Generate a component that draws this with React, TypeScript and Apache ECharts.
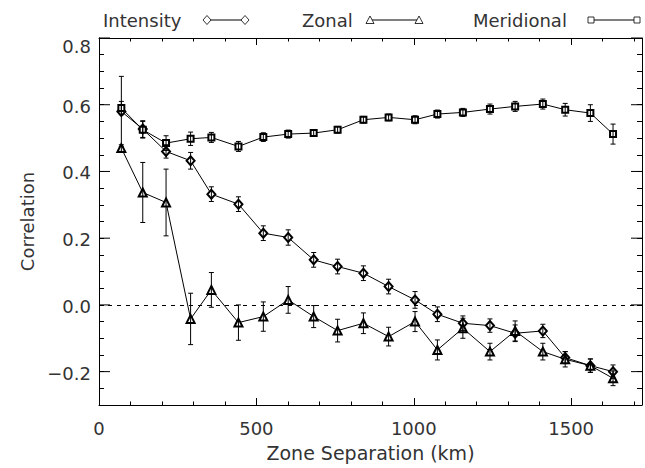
import React, { useEffect, useRef } from 'react';
import * as echarts from 'echarts';

// ---- data ----
const separation = [71, 139, 213, 291, 357, 443, 522, 601, 682, 758, 840, 920, 1004, 1075, 1156, 1242, 1322, 1410, 1481, 1561, 1633];

const intensity = [0.58, 0.527, 0.46, 0.432, 0.332, 0.302, 0.215, 0.202, 0.135, 0.115, 0.095, 0.055, 0.015, -0.028, -0.055, -0.062, -0.085, -0.078, -0.158, -0.182, -0.2];
const intensityErr = [0.105, 0.025, 0.02, 0.025, 0.022, 0.022, 0.022, 0.023, 0.022, 0.022, 0.022, 0.022, 0.025, 0.022, 0.022, 0.02, 0.025, 0.02, 0.018, 0.02, 0.02];

const zonal = [0.47, 0.337, 0.307, -0.042, 0.045, -0.053, -0.035, 0.015, -0.035, -0.077, -0.055, -0.095, -0.05, -0.135, -0.07, -0.14, -0.078, -0.14, -0.163, -0.182, -0.22];
const zonalErr = [0.01, 0.09, 0.1, 0.077, 0.052, 0.053, 0.044, 0.04, 0.033, 0.034, 0.031, 0.028, 0.03, 0.03, 0.03, 0.025, 0.03, 0.025, 0.023, 0.02, 0.022];

const meridional = [0.59, 0.525, 0.485, 0.498, 0.502, 0.475, 0.503, 0.512, 0.515, 0.525, 0.555, 0.562, 0.555, 0.572, 0.577, 0.587, 0.595, 0.602, 0.585, 0.575, 0.512];
const meridionalErr = [0.02, 0.025, 0.022, 0.02, 0.015, 0.015, 0.013, 0.012, 0.01, 0.01, 0.01, 0.01, 0.012, 0.012, 0.012, 0.015, 0.015, 0.015, 0.019, 0.025, 0.03];

const xRange = [0, 1725];
const yRange = [-0.3, 0.8];
const xMajorStep = 500;
const xMinorStep = 100;
const yMinorStep = 0.05;
const xLabelTicks = [0, 500, 1000, 1500];
const yMajorTicks = [-0.2, 0, 0.2, 0.4, 0.6, 0.8];

const seriesNames = ['Intensity', 'Zonal', 'Meridional'];

const FONT = 'DejaVu Sans';
const INK = '#333';

function errorSeries(name: string, vals: number[], errs: number[]) {
  return {
    type: 'custom',
    name: name + ' error',
    z: 3,
    silent: true,
    data: separation.map((x, i) => [x, vals[i] - errs[i], vals[i] + errs[i]]),
    encode: { x: 0, y: [1, 2] },
    renderItem: (_p: any, api: any) => {
      const x = api.value(0);
      const lo = api.coord([x, api.value(1)]);
      const hi = api.coord([x, api.value(2)]);
      const w = 2.5;
      const st = { stroke: '#000', lineWidth: 1 };
      return {
        type: 'group',
        children: [
          { type: 'line', shape: { x1: lo[0], y1: lo[1], x2: hi[0], y2: hi[1] }, style: st },
          { type: 'line', shape: { x1: lo[0] - w, y1: lo[1], x2: lo[0] + w, y2: lo[1] }, style: st },
          { type: 'line', shape: { x1: hi[0] - w, y1: hi[1], x2: hi[0] + w, y2: hi[1] }, style: st },
        ],
      };
    },
  };
}

function lineSeries(name: string, vals: number[], symbol: string, size: number | number[]) {
  return {
    type: 'line',
    name,
    data: separation.map((x, i) => [x, vals[i]]),
    symbol,
    symbolSize: size,
    showSymbol: true,
    z: 2,
    lineStyle: { color: '#000', width: 1 },
    itemStyle: { color: '#000', borderWidth: 0.8 },
    silent: true,
  };
}

function legendGraphics() {
  const y = 20;
  const st = { stroke: '#000', lineWidth: 0.8, fill: '#fff' };
  const items: any[] = [];
  const defs = [
    { name: seriesNames[0], tx: 103, m1: 207, m2: 245, kind: 'diamond' },
    { name: seriesNames[1], tx: 302, m1: 370, m2: 419, kind: 'triangle' },
    { name: seriesNames[2], tx: 473, m1: 591, m2: 637, kind: 'square' },
  ];
  const marker = (kind: string, cx: number) => {
    if (kind === 'diamond') {
      return { type: 'polygon', shape: { points: [[cx, y - 4.5], [cx + 4, y], [cx, y + 4.5], [cx - 4, y]] }, style: st, z: 101 };
    }
    if (kind === 'triangle') {
      return { type: 'polygon', shape: { points: [[cx, y - 4], [cx + 4, y + 3.5], [cx - 4, y + 3.5]] }, style: st, z: 101 };
    }
    return { type: 'rect', shape: { x: cx - 3, y: y - 3, width: 6, height: 6 }, style: st, z: 101 };
  };
  defs.forEach((d) => {
    items.push({
      type: 'text',
      x: d.tx,
      y: y,
      style: { text: d.name, font: `18px "${FONT}"`, fill: INK, verticalAlign: 'middle', align: 'left' },
      z: 100,
    });
    items.push({ type: 'line', shape: { x1: d.m1, y1: y, x2: d.m2, y2: y }, style: { stroke: '#000', lineWidth: 1 }, z: 100 });
    items.push(marker(d.kind, d.m1));
    items.push(marker(d.kind, d.m2));
  });
  return items;
}

function yLabel(v: number) {
  const k = Math.round(v * 100);
  if (k % 20 !== 0) return '';
  const t = (k < 0 ? '\u2212' : '') + (Math.abs(k) / 100).toFixed(1);
  if (k === 80) return '{top|' + t + '}';
  return t;
}

export default function App() {
  const ref = useRef<HTMLDivElement>(null);

  useEffect(() => {
    if (!ref.current) return;
    const chart = echarts.init(ref.current, undefined, { renderer: 'svg' });

    const axisLine = { show: true, onZero: false, lineStyle: { color: '#000', width: 1 } };
    const noLine = { show: false, onZero: false };
    const baseX = {
      type: 'value',
      min: xRange[0],
      max: xRange[1],
      splitLine: { show: false },
      axisLine,
    };
    const baseY = {
      type: 'value',
      min: yRange[0],
      max: yRange[1],
      interval: yMinorStep,
      splitLine: { show: false },
      axisLine,
      axisTick: { show: true, inside: true, length: 5, lineStyle: { color: '#000', width: 1 } },
    };

    const option: any = {
      animation: false,
      backgroundColor: '#fff',
      grid: { left: 99, right: -4, top: 38, bottom: 63, containLabel: false },
      xAxis: [
        {
          ...baseX,
          position: 'bottom',
          interval: xMajorStep,
          axisTick: { show: true, inside: true, length: 7, lineStyle: { color: '#000', width: 1 } },
          axisLabel: {
            show: true,
            margin: 14,
            fontFamily: FONT,
            fontSize: 18,
            color: INK,
            formatter: (v: number) => (xLabelTicks.indexOf(v) >= 0 ? String(v) : ''),
          },
          name: 'Zone Separation (km)',
          nameLocation: 'middle',
          nameGap: 38,
          nameTextStyle: { fontFamily: FONT, fontSize: 19, color: INK },
        },
        {
          ...baseX,
          position: 'bottom',
          interval: xMinorStep,
          axisLine: noLine,
          axisTick: { show: true, inside: true, length: 3.5, lineStyle: { color: '#000', width: 1 } },
          axisLabel: { show: false },
        },
        {
          ...baseX,
          position: 'top',
          interval: xMajorStep,
          axisTick: { show: true, inside: true, length: 7, lineStyle: { color: '#000', width: 1 } },
          axisLabel: { show: false },
        },
        {
          ...baseX,
          position: 'top',
          interval: xMinorStep,
          axisLine: noLine,
          axisTick: { show: true, inside: true, length: 3.5, lineStyle: { color: '#000', width: 1 } },
          axisLabel: { show: false },
        },
      ],
      yAxis: [
        {
          ...baseY,
          position: 'left',
          axisLabel: {
            show: true,
            margin: 8,
            fontFamily: FONT,
            fontSize: 18,
            color: INK,
            padding: [3, 0, 0, 0],
            formatter: yLabel,
            rich: { top: { fontFamily: FONT, fontSize: 18, color: INK, padding: [14, 0, 0, 0] } },
          },
          name: 'Correlation',
          nameLocation: 'middle',
          nameGap: 58,
          nameTextStyle: { fontFamily: FONT, fontSize: 18, color: INK },
        },
        {
          ...baseY,
          position: 'right',
          axisLabel: { show: false },
        },
      ],
      series: [
        {
          ...lineSeries(seriesNames[0], intensity, 'emptyDiamond', [8, 9]),
          markLine: {
            silent: true,
            symbol: 'none',
            label: { show: false },
            lineStyle: { color: '#000', width: 1, type: [4, 5] },
            data: [{ yAxis: 0 }],
          },
        },
        lineSeries(seriesNames[1], zonal, 'emptyTriangle', 8),
        lineSeries(seriesNames[2], meridional, 'emptyRect', 6),
        errorSeries(seriesNames[0], intensity, intensityErr),
        errorSeries(seriesNames[1], zonal, zonalErr),
        errorSeries(seriesNames[2], meridional, meridionalErr),
        {
          type: 'custom',
          name: 'y major ticks',
          silent: true,
          z: 4,
          data: yMajorTicks.map((v) => [xRange[0], v]),
          encode: { x: 0, y: 1 },
          renderItem: (_p: any, api: any) => {
            const v = api.value(1);
            const l = api.coord([xRange[0], v]);
            const r = api.coord([xRange[1], v]);
            const st = { stroke: '#000', lineWidth: 1 };
            return {
              type: 'group',
              children: [
                { type: 'line', shape: { x1: l[0], y1: l[1], x2: l[0] + 11, y2: l[1] }, style: st },
                { type: 'line', shape: { x1: r[0] - 11, y1: r[1], x2: r[0], y2: r[1] }, style: st },
              ],
            };
          },
        },
      ],
      graphic: legendGraphics(),
    };

    chart.setOption(option);
    return () => chart.dispose();
  }, []);

  return (
    <div
      ref={ref}
      style={{ position: 'fixed', left: 0, top: 0, width: 645, height: 468, background: '#fff' }}
    />
  );
}
